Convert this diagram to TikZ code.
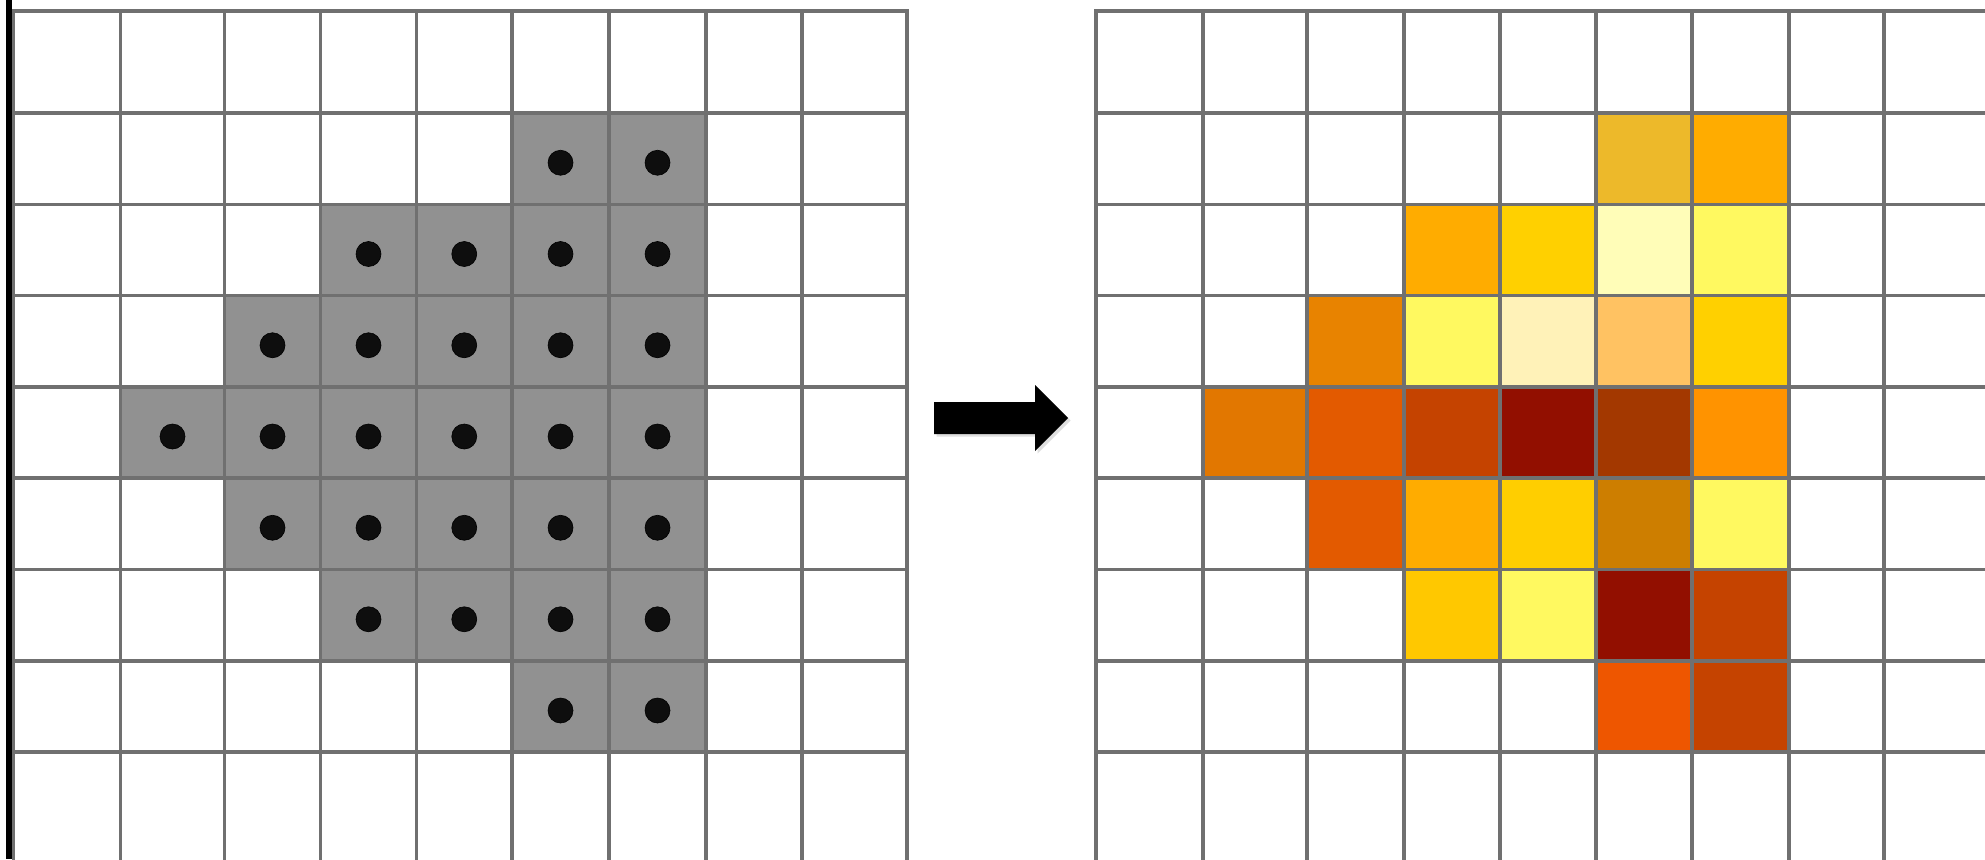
\documentclass[tikz,border=0pt]{standalone}
\usetikzlibrary{shadows}

\definecolor{gridln}{RGB}{112,112,112}
\definecolor{cellgray}{RGB}{145,145,145}
\definecolor{dotcol}{RGB}{14,14,14}

% column and row boundaries (pt, y grows downwards)
\def\colsL{{13.5,120.5,224.5,320.5,416.5,512,609,706,802,907}}
\def\colsR{{1096,1203,1307,1404,1500,1596,1692,1789,1884,1990}}
\def\rowsY{{11,113,204.5,295.5,387,478,569.5,661,752,859}}

\tikzset{
  gridline/.style={draw=gridln, line width=3.6pt, line cap=rect},
  dotmark/.style={fill=dotcol, draw=black, line width=0.6pt},
  bigarrow/.style={fill=black, drop shadow={shadow xshift=2.5pt, shadow yshift=-2.5pt, opacity=0.25}},
}

\begin{document}
\begin{tikzpicture}[x=1pt,y=-1pt]
\useasboundingbox (0,0) rectangle (1985,859);
\fill[white] (0,0) rectangle (1985,859);

% thick black bar at the far left
\fill[black] (5.8,0) rectangle (12,859);

% left grid: occupied cells with a dot
\foreach \c/\r in {5/1,6/1,
                   3/2,4/2,5/2,6/2,
                   2/3,3/3,4/3,5/3,6/3,
                   1/4,2/4,3/4,4/4,5/4,6/4,
                   2/5,3/5,4/5,5/5,6/5,
                   3/6,4/6,5/6,6/6,
                   5/7,6/7} {
  \pgfmathsetmacro\xa{\colsL[\c]}
  \pgfmathsetmacro\xb{\colsL[\c+1]}
  \pgfmathsetmacro\ya{\rowsY[\r]}
  \pgfmathsetmacro\yb{\rowsY[\r+1]}
  \fill[cellgray] (\xa,\ya) rectangle (\xb,\yb);
  \path[dotmark] ({(\xa+\xb)/2},{(\ya+\yb)/2+4}) circle (12.5);
}

% right grid: coloured cells
\foreach \c/\r/\h in {5/1/EDB92A,6/1/FFAC00,
                      3/2/FFAC00,4/2/FFD000,5/2/FFFDB8,6/2/FFF960,
                      2/3/E88300,3/3/FFF960,4/3/FFF2B8,5/3/FFC262,6/3/FFD000,
                      1/4/E27700,2/4/E35A00,3/4/C54300,4/4/920F00,5/4/A33800,6/4/FF9300,
                      2/5/E35A00,3/5/FFAC00,4/5/FFCE00,5/5/CD7E00,6/5/FFF960,
                      3/6/FFC800,4/6/FFF960,5/6/920F00,6/6/C54300,
                      5/7/EE5600,6/7/C54300} {
  \pgfmathsetmacro\xa{\colsR[\c]}
  \pgfmathsetmacro\xb{\colsR[\c+1]}
  \pgfmathsetmacro\ya{\rowsY[\r]}
  \pgfmathsetmacro\yb{\rowsY[\r+1]}
  \definecolor{cellfill}{HTML}{\h}
  \fill[cellfill] (\xa,\ya) rectangle (\xb,\yb);
}

% grid lines, left
\foreach \x in {13.5,120.5,224.5,320.5,416.5,512,609,706,802,907}
  \draw[gridline] (\x,11) -- (\x,865);
\foreach \y in {11,113,204.5,295.5,387,478,569.5,661,752}
  \draw[gridline] (13.5,\y) -- (907,\y);

% grid lines, right
\foreach \x in {1096,1203,1307,1404,1500,1596,1692,1789,1884}
  \draw[gridline] (\x,11) -- (\x,865);
\foreach \y in {11,113,204.5,295.5,387,478,569.5,661,752}
  \draw[gridline] (1096,\y) -- (1990,\y);

% block arrow between the grids
\path[bigarrow] (934,402) -- (1035,402) -- (1035,385) -- (1068,418)
  -- (1035,451) -- (1035,434) -- (934,434) -- cycle;
\end{tikzpicture}
\end{document}
